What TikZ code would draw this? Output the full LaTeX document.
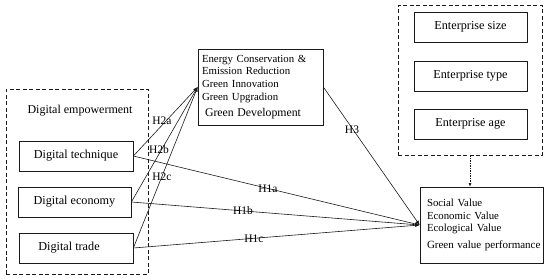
\documentclass[tikz,border=0pt]{standalone}
\usepackage{fontspec}
\setmainfont{Liberation Serif}
\usetikzlibrary{arrows.meta}
\definecolor{ink}{HTML}{1A1A1A}

\begin{document}
\begin{tikzpicture}[
      x=1pt, y=-1pt,
      box/.style={draw=ink, line width=0.7pt, minimum height=30pt,
                  inner sep=0pt, align=center, font=\fontsize{12.2}{14}\selectfont},
      listbox/.style={draw=ink, line width=0.7pt, align=left,
                  inner sep=0pt, font=\fontsize{10.8}{12.6}\selectfont},
      dashbox/.style={draw=ink, line width=0.8pt, dash pattern=on 4pt off 2.5pt,
                  inner sep=0pt},
      darrow/.style={-{Latex[length=4.5pt,width=3.5pt]}, color=ink, line width=0.6pt},
      hlabel/.style={inner sep=0pt, font=\fontsize{11.5}{13}\selectfont},
    ]
      \useasboundingbox (0,0) rectangle (550,279);

      % left group
      \node[dashbox, minimum width=142pt, minimum height=185pt] (emp) at (77,181.5) {};
      \node[inner sep=0pt, font=\fontsize{12}{14}\selectfont] (emptitle) at (80,111) {Digital empowerment};
      \node[box, minimum width=114pt] (tech) at (76,156) {Digital technique};
      \node[box, minimum width=113pt] (econ) at (74.5,202) {Digital economy};
      \node[box, minimum width=114pt] (trade) at (76,248) {\hspace*{-14pt}Digital trade};

      % mediator
      \node[listbox, minimum width=125pt, minimum height=76pt, text width=117pt] (green) at (260.5,87) {
        Energy Conservation \&\\
        Emission Reduction\\
        Green Innovation\\
        Green Upgradion\\[3.5pt]
        \hspace*{3pt}{\fontsize{11.8}{13}\selectfont Green Development}
      };

      % controls
      \node[dashbox, minimum width=144pt, minimum height=150pt] (ctrl) at (470,80) {};
      \node[box, minimum width=113pt] (size) at (470.5,27) {Enterprise size};
      \node[box, minimum width=113pt] (type) at (470.5,76) {Enterprise type};
      \node[box, minimum width=113pt] (age) at (470.5,124) {Enterprise age};

      % outcome
      \node[listbox, minimum width=123pt, minimum height=76pt, text width=109pt] (perf) at (481.5,225) {
        Social Value\\
        Economic Value\\
        Ecological Value\\[4pt]
        \mbox{\fontsize{11}{13}\selectfont Green value performance}
      };

      \draw[darrow] (tech.east) -- (green.west);
      \draw[darrow] (econ.east) -- (green.west);
      \draw[darrow] (trade.east) -- (green.west);
      \draw[darrow] (tech.east) -- (perf.west);
      \draw[darrow] (econ.east) -- (perf.west);
      \draw[darrow] (trade.east) -- (perf.west);
      \draw[darrow] (green.east) -- (perf.west);
      \draw[-{Latex[length=3.5pt,width=3pt]}, color=ink, line width=0.6pt,
            dash pattern=on 1.5pt off 1pt] (ctrl.south) -- (ctrl.south |- perf.north);

      \node[hlabel] (h2a) at (162,121) {H2a};
      \node[hlabel] (h2b) at (159,150) {H2b};
      \node[hlabel] (h2c) at (162,177) {H2c};
      \node[hlabel] (h1a) at (268,189) {H1a};
      \node[hlabel] (h1b) at (243,211) {H1b};
      \node[hlabel] (h1c) at (254,239) {H1c};
      \node[hlabel] (h3) at (352,130) {H3};
    \end{tikzpicture}
\end{document}
